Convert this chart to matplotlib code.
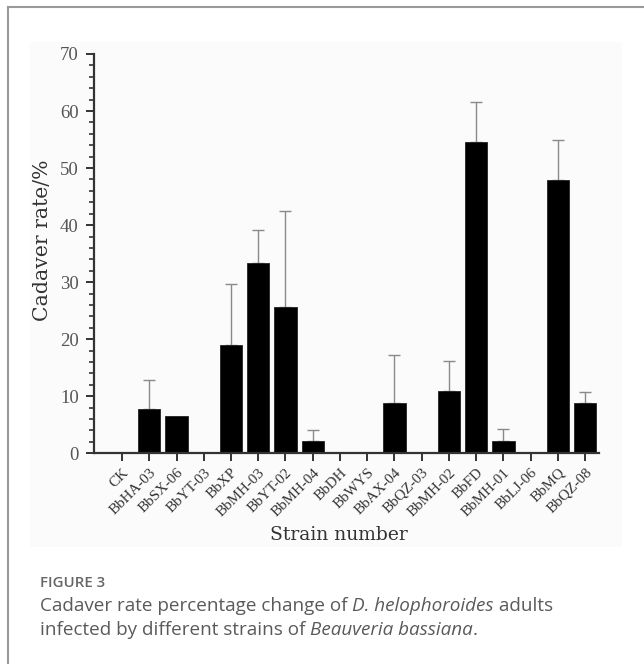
import matplotlib
matplotlib.use("Agg")
import matplotlib.pyplot as plt
from matplotlib.lines import Line2D
from matplotlib.patches import Rectangle
from matplotlib.ticker import MultipleLocator
import matplotlib.transforms as mtransforms
import numpy as np

strains = ["CK", "BbHA-03", "BbSX-06", "BbYT-03", "BbXP", "BbMH-03", "BbYT-02",
           "BbMH-04", "BbDH", "BbWYS", "BbAX-04", "BbQZ-03", "BbMH-02", "BbFD",
           "BbMH-01", "BbLJ-06", "BbMQ", "BbQZ-08"]
cadaver_rate = [0, 7.7, 6.6, 0, 18.9, 33.3, 25.6, 2.1, 0, 0, 8.8, 0, 11.0, 54.5,
                2.1, 0, 47.9, 8.8]
std_dev = [0, 5.1, 0, 0, 10.7, 5.9, 16.8, 2.0, 0, 0, 8.4, 0, 5.2, 7.0,
           2.2, 0, 7.0, 2.0]

W, H = 644, 664
fig = plt.figure(figsize=(W / 100, H / 100), dpi=100)
fig.patch.set_facecolor("white")

# faint background of the embedded chart image
fig.add_artist(Rectangle((30 / W, 1 - 547 / H), (622 - 30) / W, (547 - 42) / H,
                         transform=fig.transFigure, facecolor="#fbfbfb",
                         edgecolor="none", zorder=0))

ax = fig.add_axes([94 / W, 1 - 453.3 / H, 505 / W, 399.3 / H])
ax.set_facecolor("none")
x = np.arange(len(strains))
yerr = np.vstack([np.zeros(len(std_dev)), std_dev])
ax.bar(x, cadaver_rate, width=0.82, color="black", edgecolor="#222222", linewidth=0.6,
       zorder=2)
mask = np.array(std_dev) > 0
ax.errorbar(x[mask], np.array(cadaver_rate)[mask], yerr=yerr[:, mask], fmt="none",
            ecolor="#8a8a8a", elinewidth=1.0, capsize=4, capthick=1.0, zorder=1)

ax.set_xlim(-1.03, 17.51)
ax.set_ylim(0, 70)
ax.yaxis.set_major_locator(MultipleLocator(10))
ax.yaxis.set_minor_locator(MultipleLocator(2))
ax.set_xticks(x)
ax.set_xticklabels(strains, rotation=45, ha="right", va="top",
                   rotation_mode="anchor", family="Liberation Serif", fontsize=10.8,
                   color="#4a4a4a")
offset = mtransforms.ScaledTranslation(0, -4 / 100, fig.dpi_scale_trans)
for lab in ax.get_xticklabels():
    lab.set_transform(lab.get_transform() + offset)
for lab in ax.get_yticklabels():
    lab.set_family("Liberation Serif")
ax.tick_params(axis="y", which="major", length=6, width=1.4, labelsize=13.5,
               colors="#333333", labelcolor="#555555", pad=5)
ax.tick_params(axis="y", which="minor", length=3.5, width=1.2, colors="#333333")
ax.tick_params(axis="x", which="major", length=6, width=1.4, colors="#333333", pad=3)
for side in ("top", "right"):
    ax.spines[side].set_visible(False)
for side in ("left", "bottom"):
    ax.spines[side].set_linewidth(1.6)
    ax.spines[side].set_color("#333333")

ax.set_ylabel("Cadaver rate/%", family="DejaVu Serif", fontsize=14.7, color="#333333")
ax.yaxis.set_label_coords((43 - 94) / 505, (453.3 - 240) / 399.3)
ax.yaxis.label.set_va("center")
ax.set_xlabel("Strain number", family="DejaVu Serif", fontsize=13.5, color="#333333")
ax.xaxis.set_label_coords((339 - 94) / 505, -(535 - 453.3) / 399.3)
ax.xaxis.label.set_va("center")

# outer frame lines (left and top)
fig.add_artist(Line2D([7.5 / W, 7.5 / W], [0, 1 - 7 / H], transform=fig.transFigure,
                      color="#9a9a9a", linewidth=1.5))
fig.add_artist(Line2D([7.5 / W, 1], [1 - 7 / H, 1 - 7 / H], transform=fig.transFigure,
                      color="#9a9a9a", linewidth=1.5))

# caption
fig.text(40 / W, 1 - 583 / H, "FIGURE 3", family="Open Sans", fontsize=10.8,
         color="#666666", weight="semibold", va="center", ha="left")

renderer = fig.canvas.get_renderer()


def rich_line(pieces, x0, y, size=13.6, color="#5a5a5a"):
    xpos = x0
    for txt, style in pieces:
        t = fig.text(xpos / W, 1 - y / H, txt, family="Open Sans", fontsize=size,
                     color=color, style=style, va="center", ha="left")
        bb = t.get_window_extent(renderer=renderer)
        xpos += bb.width


rich_line([("Cadaver rate percentage change of ", "normal"),
           ("D. helophoroides", "italic"),
           (" adults", "normal")], 40, 606)
rich_line([("infected by different strains of ", "normal"),
           ("Beauveria bassiana", "italic"),
           (".", "normal")], 40, 630)

fig.savefig("out.png", dpi=100, facecolor="white")
